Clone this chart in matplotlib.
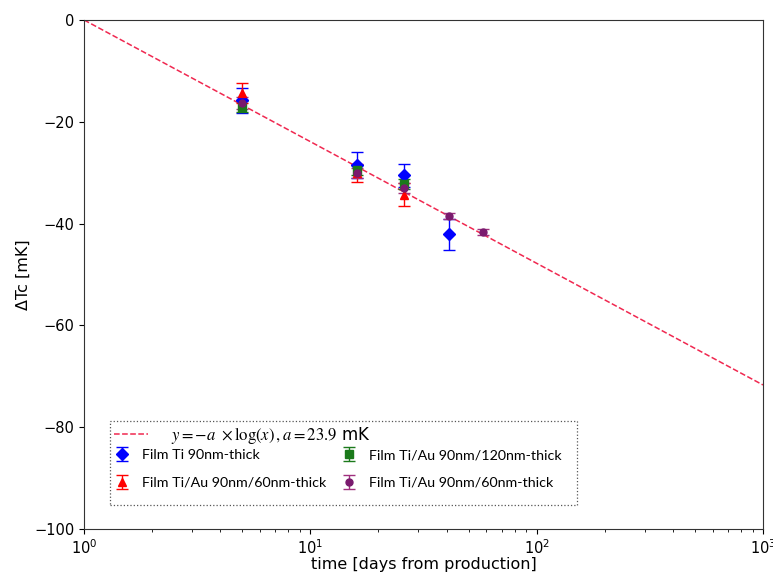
import numpy as np
import matplotlib
matplotlib.use('Agg')
import matplotlib.pyplot as plt
from matplotlib.patches import Rectangle

# dias desde a producao e deslocamento de Tc (mK)
dias_ti90 = [5, 16, 26, 41]
dtc_ti90 = [-15.8, -28.5, -30.5, -42.1]
err_ti90 = [2.5, 2.5, 2.3, 3.0]

dias_tiau60 = [5, 16, 26]
dtc_tiau60 = [-14.4, -30.0, -34.3]
err_tiau60 = [2.0, 1.8, 2.2]

dias_tiau120 = [5, 16, 26]
dtc_tiau120 = [-17.0, -29.5, -32.3]
err_tiau120 = [1.1, 1.0, 1.0]

dias_tiau60b = [5, 16, 26, 41, 58]
dtc_tiau60b = [-16.3, -30.0, -33.0, -38.5, -41.7]
err_tiau60b = [1.2, 1.0, 1.0, 0.6, 0.6]

a_fit = 23.9
x_lim = [1, 1000]

plt.rcParams['mathtext.fontset'] = 'stix'

fig = plt.figure(figsize=(7.73, 5.74), dpi=100)
ax = fig.add_axes([0.1087, 0.0784, 0.8783, 0.8868])

x_fit = np.array(x_lim, dtype=float)
linha, = ax.plot(x_fit, -a_fit * np.log10(x_fit), '--', color='#f02850', linewidth=1.1,
                 label=r'$y = -a\ \times \log(x)\,, a = 23.9$ mK')

kw = dict(linestyle='none', capsize=4, elinewidth=1, markersize=6)
e1 = ax.errorbar(dias_ti90, dtc_ti90, yerr=err_ti90, fmt='D', color='blue',
                 label='Film Ti 90nm-thick', **kw)
e2 = ax.errorbar(dias_tiau60, dtc_tiau60, yerr=err_tiau60, fmt='^', color='red',
                 label='Film Ti/Au 90nm/60nm-thick', **kw)
e3 = ax.errorbar(dias_tiau120, dtc_tiau120, yerr=err_tiau120, fmt='s', color='#1b7a1b',
                 label='Film Ti/Au 90nm/120nm-thick', **kw)
e4 = ax.errorbar(dias_tiau60b, dtc_tiau60b, yerr=err_tiau60b, fmt='o', color='#7a1a6e',
                 ecolor='#a0307f', markersize=5, linestyle='none', capsize=4, elinewidth=1,
                 label='Film Ti/Au 90nm/60nm-thick')

ax.set_xscale('log')
ax.set_xlim(x_lim)
ax.set_ylim(-100, 0)
ax.set_yticks([0, -20, -40, -60, -80, -100])
ax.set_xlabel('time [days from production]', fontsize=11.5, labelpad=0)
ax.set_ylabel('ΔTc [mK]', fontsize=11.5, labelpad=2)
ax.tick_params(labelsize=10.5)
for s in ax.spines.values():
    s.set_color('#333333')

leg1 = ax.legend(handles=[linha], loc='upper left', bbox_to_anchor=(0.035, 0.218),
                 frameon=False, prop={'size': 12}, handlelength=2.0,
                 handletextpad=1.4, borderaxespad=0)
ax.add_artist(leg1)
leg2 = ax.legend(handles=[e1, e2, e3, e4], ncol=2, loc='upper left',
                 bbox_to_anchor=(0.035, 0.168), frameon=False,
                 prop={'family': 'Lato', 'size': 10.3}, handlelength=1.2,
                 columnspacing=1.0, labelspacing=1.1, borderaxespad=0)

ax.add_patch(Rectangle((0.038, 0.047), 0.688, 0.165, transform=ax.transAxes,
                       fill=False, linestyle=':', linewidth=0.9, edgecolor='#555555'))

fig.savefig('out.png', dpi=100)
